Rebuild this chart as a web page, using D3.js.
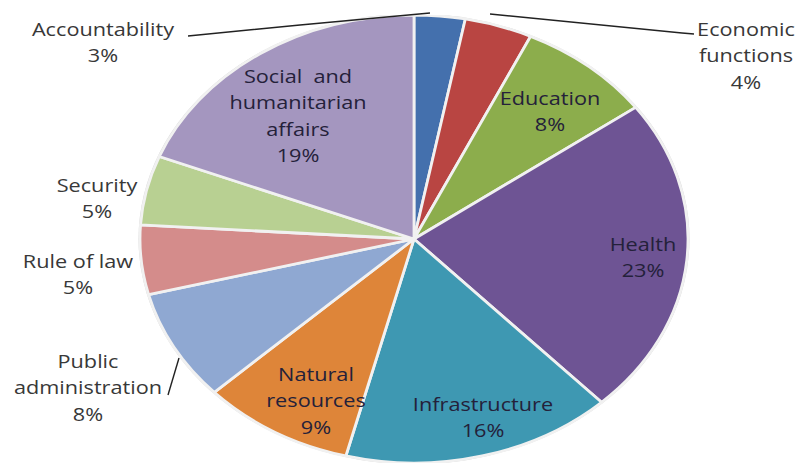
<!DOCTYPE html>
<html>
<head>
<meta charset="utf-8">
<script src="https://cdn.jsdelivr.net/npm/d3@7/dist/d3.min.js"></script>
<style>
  html, body { margin: 0; padding: 0; background: #fff; }
  svg { display: block; }
  text { font-family: "Open Sans", sans-serif; }
</style>
</head>
<body>
<script>
// Share of spending by sector, clockwise from 12 o'clock
const categories = ["Accountability", "Economic functions", "Education", "Health",
  "Infrastructure", "Natural resources", "Public administration", "Rule of law",
  "Security", "Social and humanitarian affairs"];
const values = [3, 4, 8, 23, 16, 9, 8, 5, 5, 19];
const colors = ["#4470ad", "#b94542", "#8cad4c", "#6e5494", "#3e98b2",
  "#de8539", "#8fa8d2", "#d48c8b", "#b8d092", "#a496bf"];
// Label text lines for each slice
const labelLines = [
  ["Accountability", "3%"],
  ["Economic", "functions", "4%"],
  ["Education", "8%"],
  ["Health", "23%"],
  ["Infrastructure", "16%"],
  ["Natural", "resources", "9%"],
  ["Public", "administration", "8%"],
  ["Rule of law", "5%"],
  ["Security", "5%"],
  ["Social  and", "humanitarian", "affairs", "19%"]
];

const W = 796, H = 463;
const cx = 414, cy = 239, rx = 274, ry = 224;
const stretch = 1.24;   // horizontal widening applied to the label text

const svg = d3.select("body").append("svg").attr("width", W).attr("height", H);

svg.append("defs").append("clipPath").attr("id", "plotClip")
  .append("rect").attr("x", 0).attr("y", 15).attr("width", W).attr("height", H - 15);

const pie = d3.pie().sort(null).value(d => d)(values);
const arc = d3.arc().innerRadius(0).outerRadius(rx);

const pieG = svg.append("g").attr("clip-path", "url(#plotClip)")
  .append("g")
  .attr("transform", `translate(${cx},${cy}) scale(1,${ry / rx})`);

pieG.append("ellipse").attr("cx", 0).attr("cy", 0).attr("rx", rx + 1.5).attr("ry", rx + 1.5)
  .attr("fill", "#d6d6d6");

pieG.selectAll("path.slice").data(pie).join("path")
  .attr("class", "slice")
  .attr("d", arc)
  .attr("fill", (d, i) => colors[i])
  .attr("stroke", "#f1f1f1")
  .attr("stroke-width", 2.8)
  .attr("stroke-linejoin", "round")
  .attr("vector-effect", "non-scaling-stroke");

// Label anchor for each slice: [x, y of first line, inside?]
const labelPos = [
  [103, 36, false],
  [746, 36, false],
  [550, 105, true],
  [643, 251, true],
  [483, 411, true],
  [316, 381, true],
  [88, 368, false],
  [78, 268, false],
  [97, 192, false],
  [298, 83, true]
];
const lineH = 26.3;

const labels = svg.append("g");
labelPos.forEach((p, i) => {
  const t = labels.append("text")
    .attr("transform", `translate(${p[0]},${p[1]}) scale(${stretch},1)`)
    .attr("text-anchor", "middle")
    .attr("font-size", 17.5)
    .attr("fill", p[2] ? "#24213a" : "#383838");
  labelLines[i].forEach((ln, j) => {
    t.append("tspan").attr("x", 0).attr("dy", j === 0 ? 0 : lineH)
      .attr("xml:space", "preserve").text(ln);
  });
});

// Leader lines for the labels set outside the pie
const leaders = [
  [[188, 36], [300, 25], [430, 13]],
  [[694, 34], [682, 33], [490, 14]],
  [[168, 395], [179, 358]]
];
svg.append("g").selectAll("path").data(leaders).join("path")
  .attr("d", d3.line())
  .attr("fill", "none")
  .attr("stroke", "#222")
  .attr("stroke-width", 1.4);
</script>
</body>
</html>
